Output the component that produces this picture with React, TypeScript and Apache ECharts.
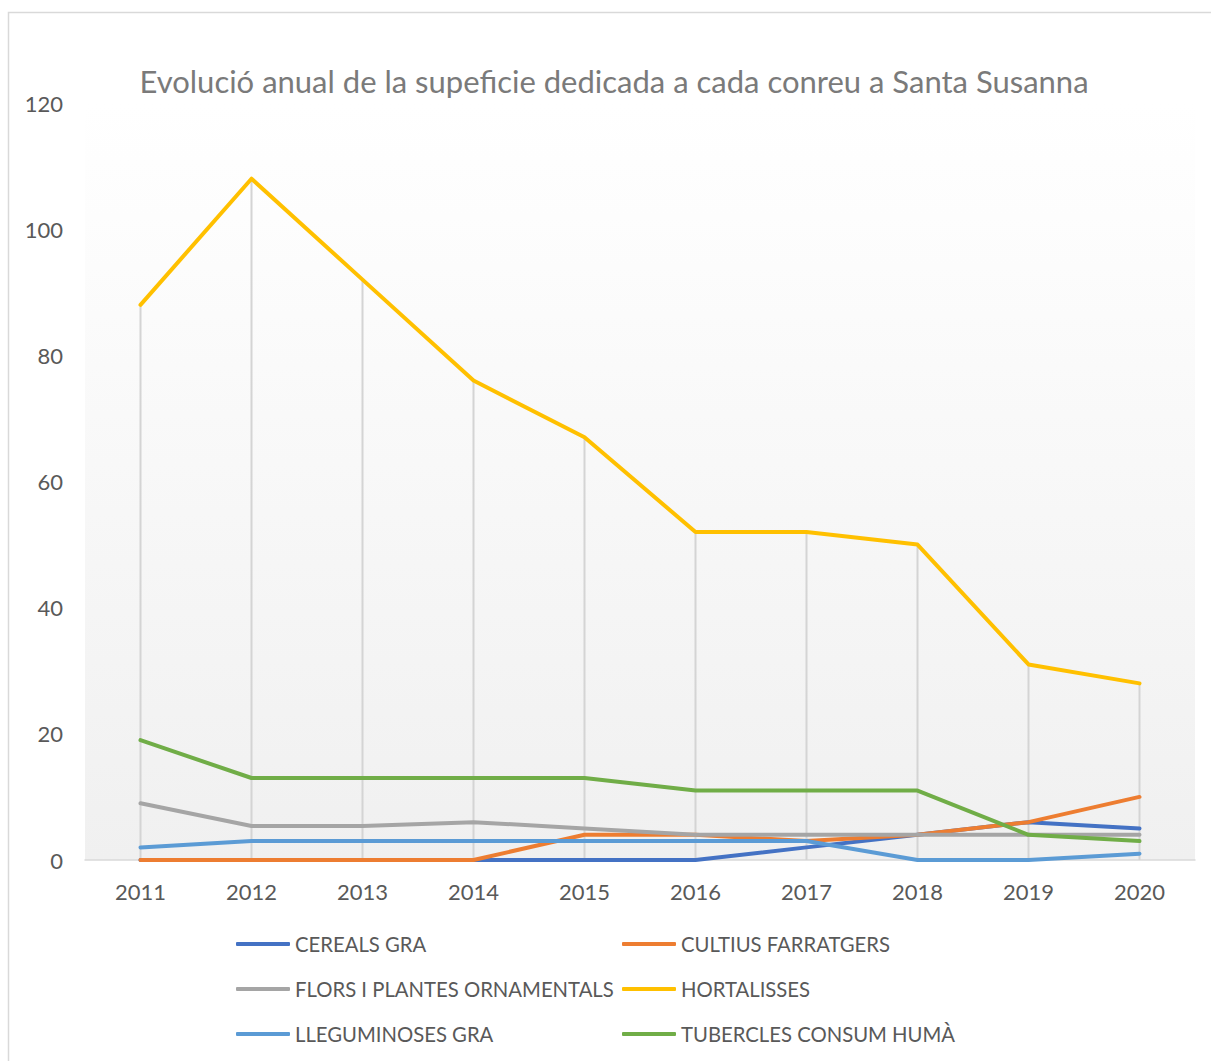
import React, { useEffect, useRef } from "react";
import * as echarts from "echarts";

const years = ["2011", "2012", "2013", "2014", "2015", "2016", "2017", "2018", "2019", "2020"];
const cereals = [0, 0, 0, 0, 0, 0, 2, 4, 6, 5];
const cultius = [0, 0, 0, 0, 4, 4, 3, 4, 6, 10];
const flors = [9, 5.4, 5.4, 6, 5, 4, 4, 4, 4, 4];
const hortalisses = [88, 108, 92, 76, 67, 52, 52, 50, 31, 28];
const lleguminoses = [2, 3, 3, 3, 3, 3, 3, 0, 0, 1];
const tubercles = [19, 13, 13, 13, 13, 11, 11, 11, 4, 3];

const seriesNames = [
  "CEREALS GRA",
  "CULTIUS FARRATGERS",
  "FLORS I PLANTES ORNAMENTALS",
  "HORTALISSES",
  "LLEGUMINOSES GRA",
  "TUBERCLES CONSUM HUMÀ",
];
const seriesColors = ["#4472C4", "#ED7D31", "#A5A5A5", "#FFC000", "#5B9BD5", "#70AD47"];
const seriesValues = [cereals, cultius, flors, hortalisses, lleguminoses, tubercles];

const titleText = "Evolució anual de la supeficie dedicada a cada conreu a Santa Susanna";
const FONT = "Lato, 'Liberation Sans', sans-serif";

export default function App() {
  const ref = useRef<HTMLDivElement>(null);
  useEffect(() => {
    if (!ref.current) return;
    const chart = echarts.init(ref.current, undefined, { renderer: "svg" });
    const dropData = years.map((_, i) => [i, Math.max(...seriesValues.map((s) => s[i]))]);
    const legendCommon = {
      orient: "vertical",
      top: 934,
      itemGap: 25,
      itemWidth: 54,
      itemHeight: 4,
      icon: "roundRect",
      textStyle: { fontFamily: FONT, fontSize: 20.3, color: "#595959", lineHeight: 20 },
      padding: 0,
    };
    chart.setOption({
      animation: false,
      backgroundColor: "#ffffff",
      textStyle: { fontFamily: FONT },
      graphic: [
        {
          type: "rect",
          shape: { x: 8.5, y: 12.5, width: 1300, height: 1200 },
          style: { fill: "none", stroke: "#d9d9d9", lineWidth: 1.5 },
          silent: true,
        },
        {
          type: "text",
          x: 614,
          y: 81,
          style: {
            text: titleText,
            fontFamily: FONT,
            fontSize: 31,
            fill: "#7a7a7a",
            align: "center",
            verticalAlign: "middle",
          },
        },
      ],
      grid: {
        left: 85,
        right: 16,
        top: 103,
        bottom: 201,
        show: true,
        borderWidth: 0,
        backgroundColor: new echarts.graphic.LinearGradient(0, 0, 0, 1, [
          { offset: 0, color: "#ffffff" },
          { offset: 0.15, color: "#fdfdfd" },
          { offset: 1, color: "#f0f0f0" },
        ]),
      },
      legend: [
        { ...legendCommon, left: 236, data: [seriesNames[0], seriesNames[2], seriesNames[4]] },
        { ...legendCommon, left: 622, data: [seriesNames[1], seriesNames[3], seriesNames[5]] },
      ],
      xAxis: {
        type: "category",
        data: years,
        boundaryGap: true,
        axisLine: { show: true, lineStyle: { color: "#d9d9d9", width: 1.5 } },
        axisTick: { show: false },
        axisLabel: { fontFamily: FONT, fontSize: 22, color: "#595959", margin: 20 },
        splitLine: { show: false },
      },
      yAxis: {
        type: "value",
        min: 0,
        max: 120,
        interval: 20,
        axisLine: { show: false },
        axisTick: { show: false },
        splitLine: { show: false },
        axisLabel: { fontFamily: FONT, fontSize: 22, color: "#595959", margin: 22 },
      },
      series: [
        {
          type: "custom",
          name: "drop",
          silent: true,
          z: 1,
          data: dropData,
          renderItem: (params: any, api: any) => {
            const top = api.coord([api.value(0), api.value(1)]);
            const bot = api.coord([api.value(0), 0]);
            return {
              type: "line",
              shape: { x1: top[0], y1: top[1], x2: bot[0], y2: bot[1] },
              style: { stroke: "#d4d4d4", lineWidth: 2 },
            };
          },
        },
        ...seriesNames.map((name, i) => ({
          type: "line",
          name,
          data: seriesValues[i],
          z: 2 + i,
          symbol: "none",
          color: seriesColors[i],
          lineStyle: { color: seriesColors[i], width: 4, cap: "round", join: "round" },
        })),
      ],
    });
    return () => chart.dispose();
  }, []);
  return (
    <div
      ref={ref}
      style={{ position: "fixed", left: 0, top: 0, width: 1211, height: 1061, background: "#fff" }}
    />
  );
}
